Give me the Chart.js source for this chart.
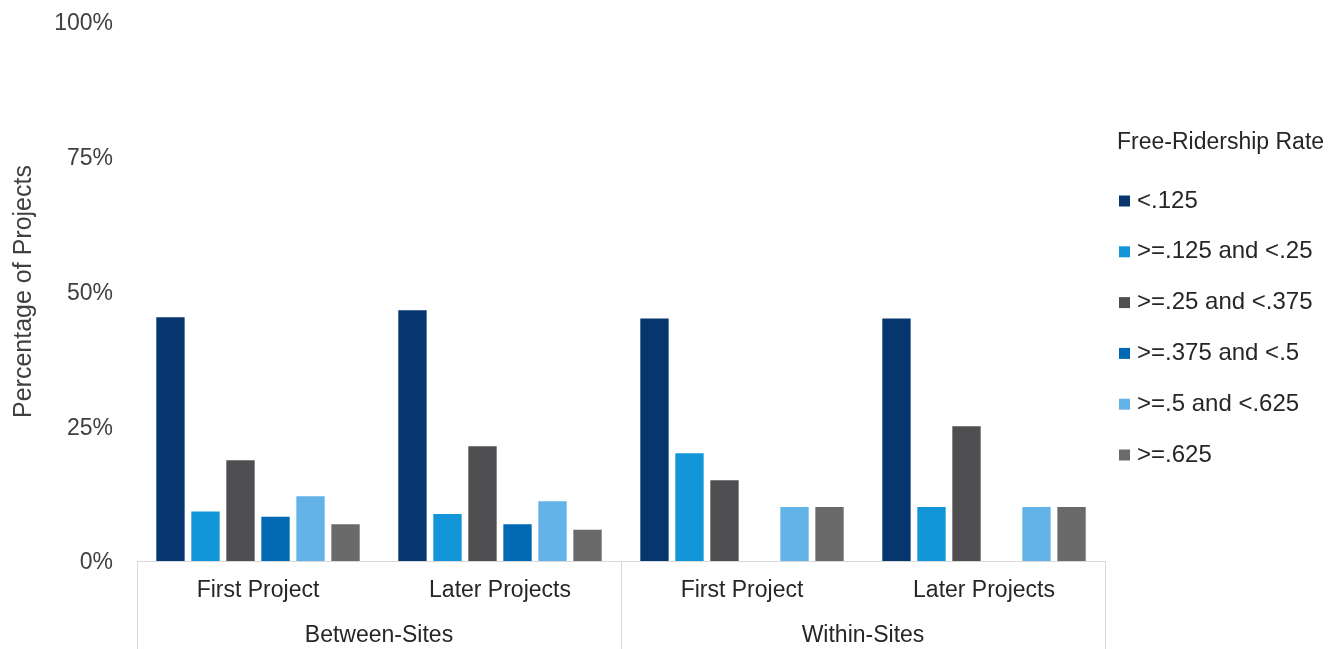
<!DOCTYPE html>
<html>
<head>
<meta charset="utf-8">
<title>Free-Ridership Rate by Project</title>
<script src="https://cdn.jsdelivr.net/npm/chart.js@4/dist/chart.umd.min.js"></script>
<style>
  html, body { margin: 0; padding: 0; background: #fff; }
  #wrap { width: 1333px; height: 649px; }
</style>
</head>
<body>
<div id="wrap"><canvas id="chart" width="1333" height="649"></canvas></div>
<script>
// categories: project order inside each site group
const projectLabels = ['First Project', 'Later Projects', 'First Project', 'Later Projects'];
const siteGroups = ['Between-Sites', 'Within-Sites'];

// free-ridership bins (legend entries)
const rateBins = ['<.125', '>=.125 and <.25', '>=.25 and <.375', '>=.375 and <.5', '>=.5 and <.625', '>=.625'];

// percentage of projects per bin, one value per category
const below125 = [45.2, 46.5, 45, 45];
const from125to25 = [9.2, 8.7, 20, 10];
const from25to375 = [18.7, 21.3, 15, 25];
const from375to5 = [8.2, 6.8, 0, 0];
const from5to625 = [12, 11.1, 10, 10];
const atLeast625 = [6.8, 5.8, 10, 10];

const yTicks = [0, 25, 50, 75, 100];

const binColors = ['#07366f', '#1396d9', '#4f4f51', '#0168b4', '#63b2e8', '#6a6a6a'];
const binValues = [below125, from125to25, from25to375, from375to5, from5to625, atLeast625];

const FONT = "'Liberation Sans', Arial, sans-serif";
const AXIS_GRAY = '#d9d9d9';

// second-level category axis + legend on the right
const siteGroupPlugin = {
    id: 'siteGroups',
    afterDraw(chart) {
        const { ctx, chartArea, scales: { x } } = chart;
        const mid = (x.getPixelForValue(1) + x.getPixelForValue(2)) / 2;
        const edges = [chartArea.left, mid, chartArea.right];

        ctx.save();
        ctx.strokeStyle = AXIS_GRAY;
        ctx.lineWidth = 1;
        edges.forEach(px => {
            const sx = Math.round(px) + 0.5;
            ctx.beginPath();
            ctx.moveTo(sx, chartArea.bottom);
            ctx.lineTo(sx, chart.height);
            ctx.stroke();
        });

        ctx.fillStyle = '#262626';
        ctx.font = `23px ${FONT}`;
        ctx.textAlign = 'center';
        ctx.textBaseline = 'middle';
        siteGroups.forEach((g, i) => {
            ctx.fillText(g, (edges[i] + edges[i + 1]) / 2, 636);
        });

        // legend
        const lx = 1117;
        ctx.textAlign = 'left';
        ctx.fillStyle = '#262626';
        ctx.font = `23px ${FONT}`;
        ctx.fillText('Free-Ridership Rate', lx, 143);
        ctx.font = `24px ${FONT}`;
        rateBins.forEach((label, i) => {
            const cy = 201 + i * 50.8;
            ctx.fillStyle = binColors[i];
            ctx.fillRect(lx + 2, cy - 5.5, 11, 11);
            ctx.fillStyle = '#262626';
            ctx.fillText(label, lx + 20, cy);
        });
        ctx.restore();
    }
};

const datasets = rateBins.map((label, i) => ({
    label: label,
    data: binValues[i],
    backgroundColor: binColors[i],
    borderWidth: 0,
    categoryPercentage: 0.868,
    barPercentage: 0.81
}));

new Chart(document.getElementById('chart'), {
    type: 'bar',
    data: { labels: projectLabels, datasets: datasets },
    options: {
        responsive: false,
        animation: false,
        devicePixelRatio: 1,
        layout: { padding: { top: 22, right: 228, bottom: 0, left: 0 } },
        plugins: {
            legend: { display: false },
            tooltip: { enabled: false }
        },
        scales: {
            x: {
                grid: { display: false, drawTicks: false },
                border: { display: true, color: AXIS_GRAY, width: 1 },
                ticks: {
                    color: '#262626',
                    font: { family: FONT, size: 23 },
                    padding: 16,
                    maxRotation: 0
                },
                afterFit(scale) { scale.height = 88; }
            },
            y: {
                min: 0,
                max: 100,
                afterBuildTicks(scale) {
                    scale.ticks = yTicks.map(v => ({ value: v }));
                },
                grid: { display: false, drawTicks: false },
                border: { display: false },
                ticks: {
                    color: '#404040',
                    font: { family: FONT, size: 23 },
                    padding: 24,
                    labelOffset: 2,
                    callback: v => v + '%'
                },
                title: {
                    display: true,
                    text: 'Percentage of Projects',
                    color: '#404040',
                    font: { family: FONT, size: 25 },
                    padding: { top: 9, bottom: 0 }
                },
                afterFit(scale) {
                    // tick padding is horizontal only; keep it out of the vertical insets
                    scale.width = 137;
                    scale.paddingTop = 0;
                    scale.paddingBottom = 0;
                }
            }
        }
    },
    plugins: [siteGroupPlugin]
});
</script>
</body>
</html>
